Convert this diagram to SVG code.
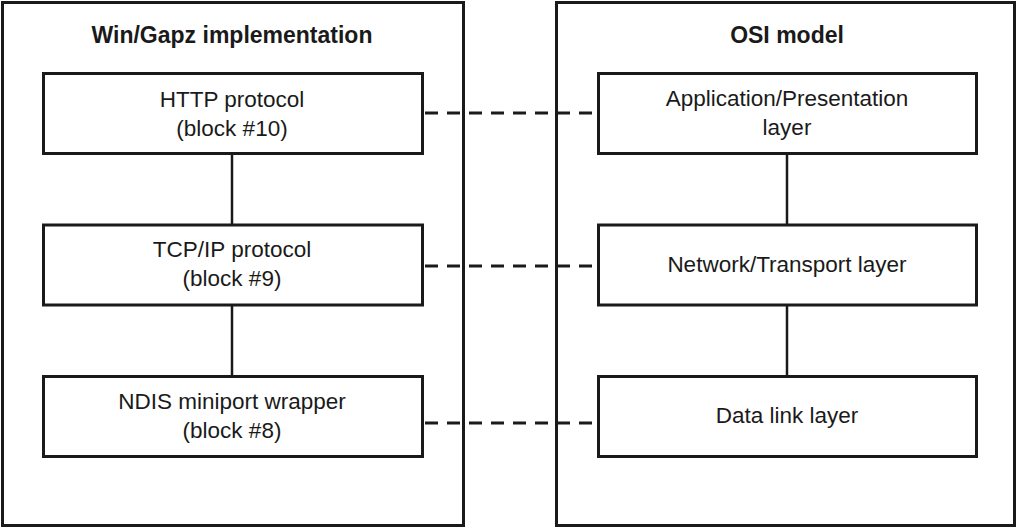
<svg xmlns="http://www.w3.org/2000/svg" width="1021" height="529" viewBox="0 0 1021 529">
<style>
.outer{fill:#fff;stroke:#1a1a1a;stroke-width:3}
.box{fill:#fff;stroke:#1a1a1a;stroke-width:3}
.t{font-family:"Liberation Sans",Arial,sans-serif;font-size:22.5px;fill:#1a1a1a;text-anchor:middle}
.h{font-family:"Liberation Sans",Arial,sans-serif;font-size:23px;font-weight:bold;fill:#1a1a1a;text-anchor:middle}
.solid{stroke:#1a1a1a;stroke-width:2.5;fill:none}
.dash{stroke:#1a1a1a;stroke-width:3;fill:none;stroke-dasharray:13 9}
</style>
<rect width="1021" height="529" fill="#fff"/>
<g id="win-gapz">
<rect class="outer" x="2.5" y="2.5" width="461" height="523"/>
<text class="h" x="232" y="43">Win/Gapz implementation</text>
</g>
<g id="osi">
<rect class="outer" x="556.5" y="2.5" width="458" height="523"/>
<text class="h" x="787" y="43">OSI model</text>
</g>
<g id="connectors">
<line class="solid" x1="232" y1="154" x2="232" y2="224"/>
<line class="solid" x1="232" y1="306" x2="232" y2="376"/>
<line class="solid" x1="787" y1="154" x2="787" y2="224"/>
<line class="solid" x1="787" y1="306" x2="787" y2="376"/>
<line class="dash" x1="425" y1="113" x2="597" y2="113"/>
<line class="dash" x1="425" y1="266" x2="597" y2="266"/>
<line class="dash" x1="425" y1="423" x2="597" y2="423"/>
</g>
<g id="http">
<rect class="box" x="43.5" y="73.5" width="379" height="80"/>
<text class="t" x="232" y="107">HTTP protocol</text>
<text class="t" x="232" y="136">(block #10)</text>
</g>
<g id="tcpip">
<rect class="box" x="43.5" y="225" width="379" height="80"/>
<text class="t" x="232" y="257">TCP/IP protocol</text>
<text class="t" x="232" y="286">(block #9)</text>
</g>
<g id="ndis">
<rect class="box" x="43.5" y="376.5" width="379" height="80"/>
<text class="t" x="232" y="409">NDIS miniport wrapper</text>
<text class="t" x="232" y="438">(block #8)</text>
</g>
<g id="app">
<rect class="box" x="598.5" y="73.5" width="378" height="80"/>
<text class="t" x="787" y="106">Application/Presentation</text>
<text class="t" x="787" y="135">layer</text>
</g>
<g id="net">
<rect class="box" x="598.5" y="225" width="378" height="80"/>
<text class="t" x="787" y="272">Network/Transport layer</text>
</g>
<g id="datalink">
<rect class="box" x="598.5" y="376.5" width="378" height="80"/>
<text class="t" x="787" y="423">Data link layer</text>
</g>
</svg>
